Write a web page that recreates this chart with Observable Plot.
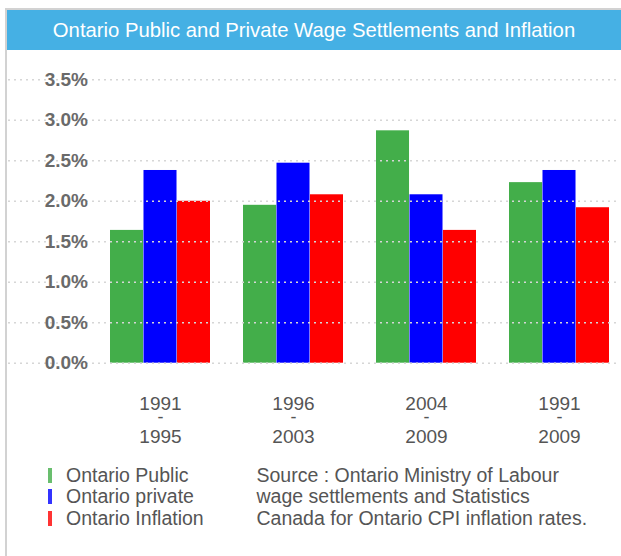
<!DOCTYPE html>
<html>
<head>
<meta charset="utf-8">
<script src="https://cdn.jsdelivr.net/npm/d3@7"></script>
<script src="https://cdn.jsdelivr.net/npm/@observablehq/plot@0.6"></script>
<style>
  html, body { margin: 0; padding: 0; background: #fff; }
  body { width: 621px; height: 556px; position: relative; overflow: hidden;
         font-family: "Liberation Sans", Arial, Helvetica, sans-serif; }
  #frame { position: absolute; left: 5px; top: 8px; width: 620px; height: 560px;
           border-left: 2px solid #d2d2d2; border-top: 2px solid #d2d2d2; }
  #title { position: absolute; left: 7px; top: 10px; width: 614px; height: 39.5px;
           background: #45b0e4; color: #fff; font-size: 20.3px; line-height: 41px; text-align: center; }
  #main { position: absolute; left: 0; top: 60px; }
  #legend { position: absolute; left: 47.5px; top: 464.7px; font-size: 19.5px; color: #555; }
  #legend .row { height: 21.8px; line-height: 21.8px; white-space: nowrap; }
  #legend .sw { display: inline-block; width: 4px; height: 15px; margin-right: 14.5px; vertical-align: -1px; opacity: 0.8; }
  #source { position: absolute; left: 256.5px; top: 464.7px; font-size: 19.5px; color: #555; line-height: 21.8px; white-space: nowrap; }
</style>
</head>
<body>
<div id="frame"></div>
<div id="title">Ontario Public and Private Wage Settlements and Inflation</div>
<div id="main"></div>
<div id="legend"></div>
<div id="source">Source : Ontario Ministry of Labour<br>wage settlements and Statistics<br>Canada for Ontario CPI inflation rates.</div>
<script>
const groups = ["1991-1995", "1996-2003", "2004-2009", "1991-2009"];
const groupStartYears = ["1991", "1996", "2004", "1991"];
const groupEndYears = ["1995", "2003", "2009", "2009"];
const seriesNames = ["Ontario Public", "Ontario private", "Ontario Inflation"];
const seriesColors = ["#43ae4a", "#0000ff", "#ff0000"];
const publicValues = [1.64, 1.95, 2.87, 2.23];
const privateValues = [2.38, 2.47, 2.08, 2.38];
const inflationValues = [2.00, 2.08, 1.64, 1.92];
const yTicks = [0, 0.5, 1.0, 1.5, 2.0, 2.5, 3.0, 3.5];

const seriesValues = [publicValues, privateValues, inflationValues];
const data = seriesNames.flatMap((s, si) => groups.map((g, gi) => ({group: g, series: s, si, value: seriesValues[si][gi]})));

// layout
const W = 621, H = 400;
const xStart = 109.3, xEnd = 610, padInner = 0.247;
const bw = (xEnd - xStart) / (groups.length - padInner) * (1 - padInner);
const third = bw / 3;

const bars = seriesNames.map((s, si) => Plot.barY(data.filter(d => d.si === si), {
  x: "group", y: "value", fill: seriesColors[si],
  insetLeft: si * third, insetRight: (2 - si) * third
}));

const labelStyle = {x: d => d, frameAnchor: "bottom", lineAnchor: "middle", fill: "#555"};

const main = Plot.plot({
  width: W, height: H,
  marginLeft: 8, marginRight: 4, marginTop: 19.3, marginBottom: 97.3,
  style: {fontFamily: '"Liberation Sans", Arial, Helvetica, sans-serif', overflow: "visible"},
  x: {type: "band", domain: groups, range: [xStart, xEnd], paddingInner: padInner, paddingOuter: 0, axis: null},
  y: {domain: [0, 3.5], axis: null},
  marks: [
    ...bars,
    Plot.ruleY(yTicks, {stroke: "#d6d6d6", strokeWidth: 1.6, strokeDasharray: "2,4"}),
    Plot.text(yTicks, {y: d => d, text: d => d.toFixed(1) + "%", frameAnchor: "left", dx: 79.5,
      textAnchor: "end", fill: "#6a6a6a", fontSize: 19, fontWeight: "bold"}),
    Plot.text(groups, {...labelStyle, text: (d, i) => groupStartYears[i], dy: 40.3, fontSize: 19}),
    Plot.text(groups, {...labelStyle, text: () => "-", dy: 54.5, fontSize: 18}),
    Plot.text(groups, {...labelStyle, text: (d, i) => groupEndYears[i], dy: 73.8, fontSize: 19})
  ]
});
document.getElementById("main").appendChild(main);

const legend = document.getElementById("legend");
seriesNames.forEach((s, i) => {
  const row = document.createElement("div");
  row.className = "row";
  const sw = document.createElement("span");
  sw.className = "sw";
  sw.style.background = seriesColors[i];
  row.appendChild(sw);
  row.appendChild(document.createTextNode(s));
  legend.appendChild(row);
});
</script>
</body>
</html>
